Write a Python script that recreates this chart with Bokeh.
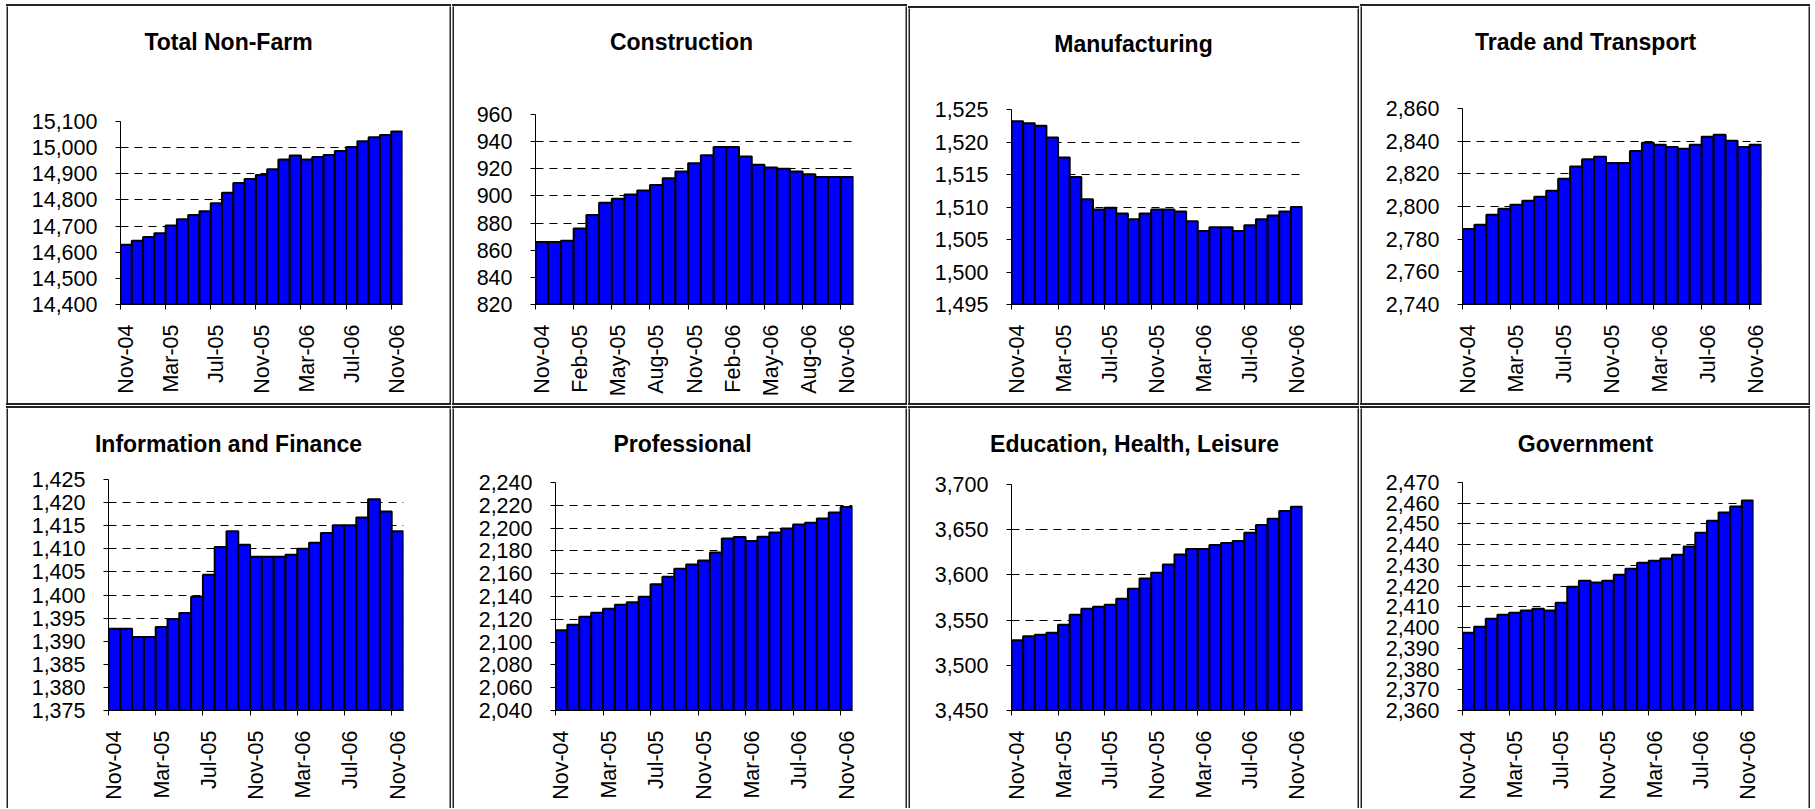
import math
from bokeh.plotting import figure
from bokeh.layouts import row, column
from bokeh.models import Range1d, FixedTicker, NumeralTickFormatter, Spacer, Div
from bokeh.core.properties import value
from bokeh.embed import file_html
from bokeh.resources import INLINE

# ---------------- data ----------------
months = ["Nov-04", "Dec-04", "Jan-05", "Feb-05", "Mar-05", "Apr-05", "May-05",
          "Jun-05", "Jul-05", "Aug-05", "Sep-05", "Oct-05", "Nov-05", "Dec-05",
          "Jan-06", "Feb-06", "Mar-06", "Apr-06", "May-06", "Jun-06", "Jul-06",
          "Aug-06", "Sep-06", "Oct-06", "Nov-06"]

total_nonfarm = [14629, 14644, 14658, 14673, 14702, 14726, 14742, 14757, 14787,
                 14827, 14865, 14880, 14895, 14917, 14955, 14970, 14955, 14964,
                 14972, 14987, 15002, 15024, 15040, 15048, 15062]
construction = [866, 866, 867, 876, 886, 895, 898, 901, 904, 908, 913, 918, 924,
                930, 936, 936, 929, 923, 921, 920, 918, 916, 914, 914, 914]
manufacturing = [1523.2, 1522.9, 1522.5, 1520.7, 1517.6, 1514.6, 1511.2, 1509.6,
                 1509.9, 1509.0, 1508.1, 1509.0, 1509.6, 1509.6, 1509.3, 1507.8,
                 1506.3, 1506.9, 1506.9, 1506.3, 1507.2, 1508.1, 1508.7, 1509.3,
                 1510.0]
trade_transport = [2786.3, 2788.8, 2794.9, 2798.6, 2801.0, 2803.5, 2806.0, 2809.6,
                   2817.0, 2824.5, 2829.0, 2830.4, 2826.7, 2826.7, 2834.0, 2839.0,
                   2837.8, 2836.5, 2835.3, 2837.8, 2842.7, 2843.9, 2840.2, 2836.5,
                   2837.8]
info_finance = [1392.7, 1392.7, 1390.9, 1390.9, 1393.1, 1394.8, 1396.1, 1399.6,
                1404.4, 1410.4, 1413.8, 1410.9, 1408.3, 1408.3, 1408.3, 1408.7,
                1410.0, 1411.3, 1413.4, 1415.1, 1415.1, 1416.8, 1420.7, 1418.1,
                1413.8]
professional = [2110.3, 2115.2, 2122.3, 2125.8, 2129.3, 2132.8, 2134.9, 2139.8,
                2150.7, 2157.4, 2164.4, 2168.0, 2171.5, 2178.5, 2190.8, 2192.3,
                2188.7, 2192.5, 2196.1, 2199.6, 2203.1, 2204.6, 2208.4, 2213.6,
                2218.6]
edu_health_leisure = [3527.6, 3532.0, 3533.8, 3536.0, 3544.9, 3556.0, 3562.6, 3564.9,
                      3567.1, 3573.7, 3584.8, 3595.9, 3602.5, 3611.4, 3622.5, 3628.7,
                      3628.7, 3633.2, 3635.4, 3637.6, 3646.5, 3655.3, 3662.0, 3670.8,
                      3675.3]
government = [2397.5, 2400.4, 2404.3, 2406.2, 2407.2, 2408.2, 2409.1, 2408.2,
              2412.0, 2419.7, 2422.6, 2421.7, 2422.6, 2425.5, 2428.4, 2431.3,
              2432.3, 2433.3, 2435.2, 2439.1, 2445.8, 2451.6, 2455.5, 2458.4,
              2461.3]

ticks_total = [14400, 14500, 14600, 14700, 14800, 14900, 15000, 15100]
ticks_constr = [820, 840, 860, 880, 900, 920, 940, 960]
ticks_manuf = [1495, 1500, 1505, 1510, 1515, 1520, 1525]
ticks_trade = [2740, 2760, 2780, 2800, 2820, 2840, 2860]
ticks_info = [1375, 1380, 1385, 1390, 1395, 1400, 1405, 1410, 1415, 1420, 1425]
ticks_prof = [2040, 2060, 2080, 2100, 2120, 2140, 2160, 2180, 2200, 2220, 2240]
ticks_edu = [3450, 3500, 3550, 3600, 3650, 3700]
ticks_gov = [2360, 2370, 2380, 2390, 2400, 2410, 2420, 2430, 2440, 2450, 2460, 2470]

titles = ["Total Non-Farm", "Construction", "Manufacturing", "Trade and Transport",
          "Information and Finance", "Professional", "Education, Health, Leisure",
          "Government"]
series = [total_nonfarm, construction, manufacturing, trade_transport,
          info_finance, professional, edu_health_leisure, government]
yticks = [ticks_total, ticks_constr, ticks_manuf, ticks_trade,
          ticks_info, ticks_prof, ticks_edu, ticks_gov]
label_step = [4, 3, 4, 4, 4, 4, 4, 4]

# ---------------- layout (pixels) ----------------
content_w = [441, 451, 447, 446]          # inner width of each column's panels
content_h = [397, 400]                    # inner height of each row's panels
top_extra = [0, 0, 2, 0, 0, 0, 0, 0]      # extra white above a panel's top border
LINE = 2                                  # panel border thickness
BORDER_COLOR = "#222222"
# chart frame offsets inside the panel: (left, right, frame top from panel top, bottom)
frame_pos = [
    (112, 47, 115, 99), (81, 52, 108, 99), (101, 55, 101, 99), (100, 47, 102, 99),
    (100, 46, 71, 98), (101, 53, 74, 98), (101, 55, 76, 98), (100, 55, 74, 98),
]
title_cx = [220, 227, 223, 223, 220, 228, 224, 223]
title_cy = [35, 35, 35, 35, 35, 35, 35, 35]
TOP_PAD = 14                              # chart figure space above its frame

FONT = "Liberation Sans"
FS_TICK = "21.5px"
FS_TITLE = "23px"


def vstrip(h):
    s = figure(width=LINE, height=h, output_backend="svg", toolbar_location=None,
               title=None, min_border=0, x_axis_type=None, y_axis_type=None,
               outline_line_color=None, background_fill_color=BORDER_COLOR,
               border_fill_color=BORDER_COLOR)
    return s


def hline(w):
    return Div(text="", width=w, height=LINE, margin=0,
               styles={"background-color": BORDER_COLOR})


def title_fig(k, w, h):
    t = figure(width=w, height=h, output_backend="svg", toolbar_location=None,
               title=None, min_border=0, x_axis_type=None, y_axis_type=None,
               x_range=Range1d(0, w), y_range=Range1d(h, 0),
               outline_line_color=None, background_fill_color="white",
               border_fill_color="white")
    t.text(x=[title_cx[k]], y=[title_cy[k]], text=[titles[k]], text_align="center",
           text_baseline="middle", text_font=value(FONT), text_font_size=FS_TITLE,
           text_font_style="bold", text_color="black")
    return t


def chart_fig(k, w, h):
    vals = series[k]
    tks = yticks[k]
    n = len(vals)
    bl, br, _, bb = frame_pos[k]
    p = figure(width=w, height=h, output_backend="svg", toolbar_location=None,
               title=None,
               x_range=Range1d(-0.5, n - 0.5), y_range=Range1d(tks[0], tks[-1]),
               min_border_left=bl, min_border_right=br, min_border_top=TOP_PAD,
               min_border_bottom=bb, outline_line_color=None,
               background_fill_color="white", border_fill_color="white")
    xs = list(range(n))
    p.vbar(x=xs, top=vals, bottom=tks[0], width=1.0, fill_color="#0000FF",
           line_color="black", line_width=2)

    step = label_step[k]
    idx = list(range(0, n, step))
    p.xaxis.ticker = FixedTicker(ticks=idx, minor_ticks=[i - 0.5 for i in idx])
    p.xaxis.major_label_overrides = {i: months[i] for i in idx}
    p.xaxis.major_label_orientation = math.pi / 2
    p.xaxis.major_tick_line_color = None
    p.xaxis.major_tick_out = 5
    p.xaxis.major_tick_in = 0
    p.xaxis.minor_tick_out = 5
    p.xaxis.minor_tick_in = 0
    p.xaxis.minor_tick_line_color = "black"
    p.xaxis.major_label_standoff = 15
    p.xaxis.axis_line_color = "black"
    p.xaxis.major_label_text_font = FONT
    p.xaxis.major_label_text_font_size = FS_TICK
    p.xaxis.major_label_text_color = "black"

    p.yaxis.ticker = FixedTicker(ticks=tks, minor_ticks=[])
    p.yaxis.formatter = NumeralTickFormatter(format="0,0")
    p.yaxis.major_tick_out = 5
    p.yaxis.major_tick_in = 0
    p.yaxis.minor_tick_line_color = None
    p.yaxis.major_label_standoff = 18
    p.yaxis.axis_line_color = "black"
    p.yaxis.major_label_text_font = FONT
    p.yaxis.major_label_text_font_size = FS_TICK
    p.yaxis.major_label_text_color = "black"

    p.xgrid.grid_line_color = None
    p.ygrid.grid_line_color = "black"
    p.ygrid.grid_line_dash = "8 6"
    p.ygrid.grid_line_width = 1
    p.ygrid.ticker = FixedTicker(ticks=tks[1:], minor_ticks=[])
    return p


def panel(k):
    w = content_w[k % 4]
    h = content_h[k // 4] - top_extra[k]
    th = frame_pos[k][2] - TOP_PAD
    # wrap each figure separately so the layout does not align their frames
    inner = column(column(title_fig(k, w, th)), column(chart_fig(k, w, h - th)),
                   spacing=0)
    parts = []
    if top_extra[k]:
        parts.append(Spacer(width=w, height=top_extra[k]))
    parts.append(hline(w + 2 * LINE))
    parts.append(row(column(vstrip(h)), inner, column(vstrip(h)), spacing=0))
    if k < 4:
        parts.append(hline(w + 2 * LINE))
    return column(*parts, spacing=0)


def panel_row(ks):
    items = [Spacer(width=6, height=10)]
    for j, k in enumerate(ks):
        if j > 0:
            items.append(Spacer(width=1, height=10))
        items.append(panel(k))
    return row(*items, spacing=0)


layout = column(Spacer(width=10, height=4), panel_row([0, 1, 2, 3]),
                Spacer(width=10, height=1), panel_row([4, 5, 6, 7]), spacing=0)

open("out.html", "w").write(file_html(layout, INLINE))
